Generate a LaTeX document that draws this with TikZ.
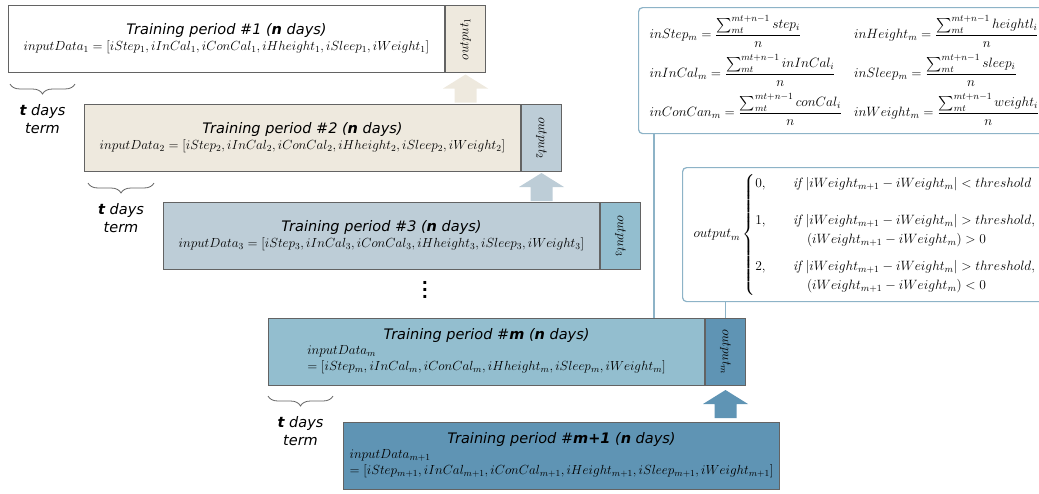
\RequirePackage{fix-cm}
\documentclass[tikz,border=0pt]{standalone}
\usepackage{amsmath}
\usepackage{graphicx}
\usepackage{fontspec}
\setsansfont{DejaVu Sans}
\usetikzlibrary{positioning, calc, decorations.pathreplacing}

\definecolor{beige}{HTML}{EEE9DE}
\definecolor{greyblue}{HTML}{BDCDD7}
\definecolor{midblue}{HTML}{93BECF}
\definecolor{darkblue}{HTML}{5F94B4}
\definecolor{framegrey}{HTML}{636363}
\definecolor{linkblue}{HTML}{8DB3C7}

\newcommand{\ttlfont}{\sffamily\itshape\fontsize{14.5}{18}\selectfont}
\newcommand{\ptitle}[1]{{\ttlfont Training period \##1 (\textbf{n} days)}}
\newcommand{\sumn}[1]{\frac{\sum_{mt}^{mt+n-1} #1_i}{n}}
% block arrow pointing up, centred on a coordinate
\newcommand{\blockarrow}[2]{\fill[#1] (#2) ++(-11,14) -- ++(22,0) -- ++(0,-14) -- ++(11.5,0) -- ++(-22.5,-14) -- ++(-22.5,14) -- ++(11.5,0) -- cycle;}

\begin{document}
\begin{tikzpicture}[
  x=1pt, y=-1pt,
  period/.style={draw=framegrey, line width=1pt, rectangle, minimum width=436pt, minimum height=67pt,
    anchor=north west, inner sep=0pt, align=center, font=\fontsize{13.2}{16}\selectfont},
  outbox/.style={draw=framegrey, line width=1pt, rectangle, minimum width=40pt, minimum height=67pt,
    anchor=north west, inner sep=0pt, font=\fontsize{13.2}{16}\selectfont},
  brc/.style={decorate, decoration={brace, mirror, amplitude=10pt}, line width=0.8pt, draw=framegrey},
  term/.style={font=\ttlfont, align=center, inner sep=0pt},
  formbox/.style={draw=linkblue, line width=1.2pt, rounded corners=4pt, fill=white, anchor=north west,
    inner xsep=11pt, align=left},
  link/.style={draw=linkblue, line width=1.2pt}
]
\useasboundingbox (0,0) rectangle (1039,493);
\clip (0,0) rectangle (1039,493);

% training periods
\node[period, fill=white] (p1) at (8,5) {\ptitle{1}\\ $inputData_1=[iStep_1,iInCal_1,iConCal_1,iHheight_1,iSleep_1,iWeight_1]$};
\node[outbox, fill=beige] (o1) at (p1.north east) {\rotatebox{90}{$output_1$}};

\node[period, fill=beige] (p2) at (84,104) {\ptitle{2}\\ $inputData_2=[iStep_2,iInCal_2,iConCal_2,iHheight_2,iSleep_2,iWeight_2]$};
\node[outbox, fill=greyblue] (o2) at (p2.north east) {\rotatebox{-90}{$output_2$}};

\node[period, fill=greyblue] (p3) at (163,202) {\ptitle{3}\\ $inputData_3=[iStep_3,iInCal_3,iConCal_3,iHheight_3,iSleep_3,iWeight_3]$};
\node[outbox, fill=midblue] (o3) at (p3.north east) {\rotatebox{-90}{$output_3$}};

\node[font=\sffamily\bfseries\fontsize{16}{7}\selectfont, align=center, inner sep=0pt] (dots) at (425,290) {.\\.\\.};

\node[period, fill=midblue] (pm) at (268,318) {{\ttlfont Training period \#\textbf{m} (\textbf{n} days)}\\
  $\begin{array}{@{}l@{}}inputData_m\\ =[iStep_m,iInCal_m,iConCal_m,iHheight_m,iSleep_m,iWeight_m]\end{array}$};
\node[outbox, fill=darkblue] (om) at (pm.north east) {\rotatebox{-90}{$output_m$}};

\node[period, fill=darkblue] (pn) at (343,422) {{\ttlfont Training period \#\textbf{m+1} (\textbf{n} days)}\\
  $\begin{array}{@{}l@{}}inputData_{m+1}\\ =[iStep_{m+1},iInCal_{m+1},iConCal_{m+1},iHeight_{m+1},iSleep_{m+1},iWeight_{m+1}]\end{array}$};

% arrows between periods
\coordinate (a1) at ($(o1.south)!.5!(o1.south |- p2.north)$);
\coordinate (a2) at ($(o2.south)!.5!(o2.south |- p3.north)$);
\coordinate (am) at ($(om.south)!.5!(om.south |- pn.north)$);
\blockarrow{beige}{a1}
\blockarrow{greyblue}{a2}
\blockarrow{darkblue}{am}

% t days term
\draw[brc] ($(p1.south west)+(2,11)$) -- ($(p1.south west)+(67,11)$) node[term, midway, below=20pt] (t1) {\textbf{t} days\\term};
\draw[brc] ($(p2.south west)+(4,11)$) -- ($(p2.south west)+(70,11)$) node[term, midway, below=20pt] (t2) {\textbf{t} days\\term};
\draw[brc] ($(pm.south west)+(0,10)$) -- ($(pm.south west)+(65,10)$) node[term, midway, below=20pt] (tm) {\textbf{t} days\\term};

% input formulas
\node[formbox, minimum height=126pt, text width=420pt, font=\fontsize{13.5}{16}\selectfont] (fbox) at (638,7) {$\begin{array}{@{}l@{\hspace{12pt}}l@{}}
  \displaystyle inStep_m=\sumn{step} & \displaystyle inHeight_m=\sumn{heightl}\\[11pt]
  \displaystyle inInCal_m=\sumn{inInCal} & \displaystyle inSleep_m=\sumn{sleep}\\[11pt]
  \displaystyle inConCan_m=\sumn{conCal} & \displaystyle inWeight_m=\sumn{weight}
  \end{array}$};

% output rule
\node[formbox, minimum height=134pt, text width=400pt, font=\fontsize{13.5}{16}\selectfont] (cbox) at (682,167) {$output_m \begin{cases}
  0, & \hspace{14pt}\mathit{if}\ |iWeight_{m+1}-iWeight_m|<threshold\\[18pt]
  1, & \hspace{14pt}\mathit{if}\ |iWeight_{m+1}-iWeight_m|>threshold,\\
     & \hspace{28pt}(iWeight_{m+1}-iWeight_m)>0\\[7pt]
  2, & \hspace{14pt}\mathit{if}\ |iWeight_{m+1}-iWeight_m|>threshold,\\
     & \hspace{28pt}(iWeight_{m+1}-iWeight_m)<0
  \end{cases}$};

\coordinate (fx) at (654,0);
\draw[link] (fbox.south -| fx) -- (pm.north -| fx);
\draw[link] (cbox.south -| om.north) -- (om.north);
\end{tikzpicture}
\end{document}
